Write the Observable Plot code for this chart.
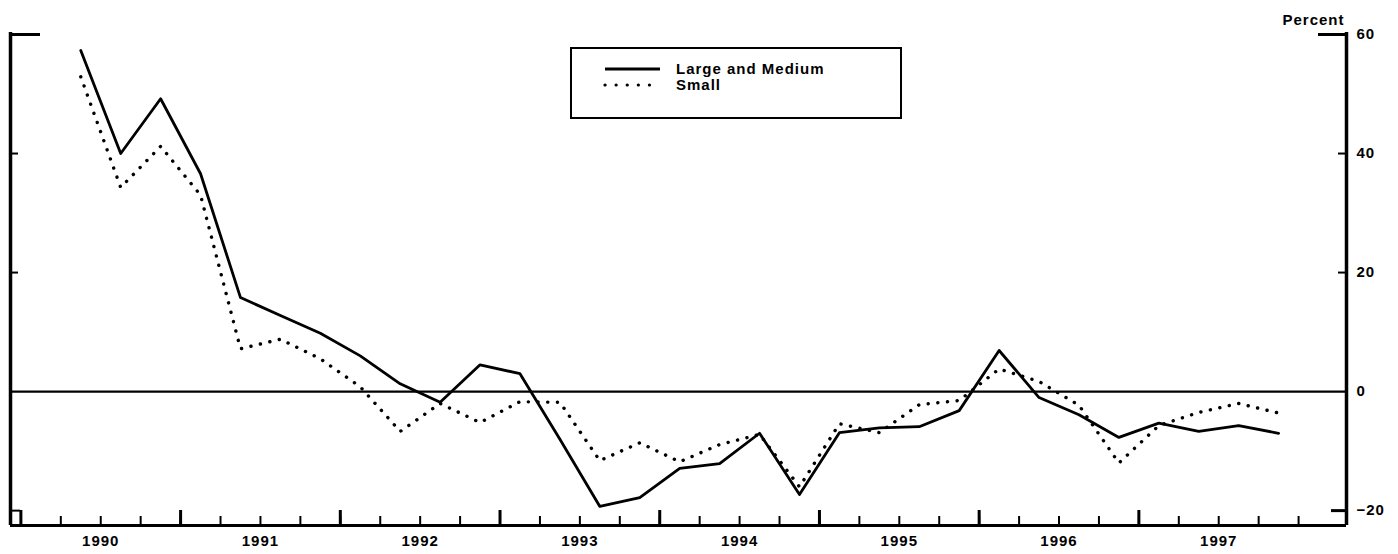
<!DOCTYPE html>
<html><head><meta charset="utf-8">
<script src="https://cdn.jsdelivr.net/npm/d3@7"></script>
<script src="https://cdn.jsdelivr.net/npm/@observablehq/plot@0.6"></script>
<style>
body{margin:0;background:#fff;font-family:"Liberation Sans",Arial,sans-serif;}
#wrap{position:relative;width:1398px;height:554px;}
#legend{position:absolute;left:570px;top:47px;width:332px;height:72px;border:2px solid #000;box-sizing:border-box;background:#fff;}
#legend svg{position:absolute;left:0;top:0;}
</style></head><body><div id="wrap"></div>
<script>
// Quarterly observations
const periods = [
  "1990:Q2","1990:Q3","1990:Q4",
  "1991:Q1","1991:Q2","1991:Q3","1991:Q4",
  "1992:Q1","1992:Q2","1992:Q3","1992:Q4",
  "1993:Q1","1993:Q2","1993:Q3","1993:Q4",
  "1994:Q1","1994:Q2","1994:Q3","1994:Q4",
  "1995:Q1","1995:Q2","1995:Q3","1995:Q4",
  "1996:Q1","1996:Q2","1996:Q3","1996:Q4",
  "1997:Q1","1997:Q2","1997:Q3","1997:Q4"
];
const largeMedium = [57.3, 40.0, 49.2, 36.6, 15.8, 12.8, 9.8, 6.0, 1.3, -1.8, 4.5, 3.0, -8.0, -19.3, -17.8, -12.9, -12.1, -7.0, -17.3, -6.9, -6.1, -5.9, -3.2, 6.9, -1.0, -3.9, -7.7, -5.3, -6.7, -5.7, -7.0];
const small = [52.9, 34.3, 41.2, 33.0, 7.2, 8.8, 5.5, 0.8, -6.7, -2.0, -5.2, -1.7, -1.8, -11.6, -8.6, -11.8, -8.9, -7.2, -16.0, -5.4, -6.9, -2.2, -1.5, 3.8, 1.7, -2.3, -12.0, -5.7, -3.5, -2.0, -3.6];
const seriesNames = ["Large and Medium", "Small"];
const yearLabels = ["1990","1991","1992","1993","1994","1995","1996","1997"];
const tickYears = [1990,1991,1992,1993,1994,1995,1996,1997,1998];
const yTickValues = [-20, 0, 20, 40, 60];
const unitLabel = "Percent";

const xDomain = [1989.935, 1998.30];
const yDomain = [-22.5, 60];

function periodToYear(p) { const [y, q] = p.split(":Q"); return +y + (+q - 0.5) / 4; }
const rows = periods.map((p, i) => ({t: periodToYear(p), lm: largeMedium[i], sm: small[i]}));
const labelPos = yearLabels.map(y => +y + 0.5);
const majorTicks = tickYears.slice(0, -1);
const minorTicks = [];
tickYears.slice(0, -1).forEach(y => { [0.25, 0.5, 0.75, 1].forEach(f => minorTicks.push(y + f)); });

const W = 1398, H = 554, mL = 10, mR = 52, mT = 34, mB = 29;
const innerW = W - mL - mR, innerH = H - mT - mB;
const fontFamily = "'Liberation Sans', Arial, sans-serif";

const chart = Plot.plot({
  width: W, height: H,
  marginLeft: mL, marginRight: mR, marginTop: mT, marginBottom: mB,
  style: {fontFamily, fontSize: "15px", background: "#fff", color: "#000", letterSpacing: "1px"},
  x: {domain: xDomain, label: null},
  y: {domain: yDomain, label: null},
  marks: [
    // frame: left, right, bottom
    Plot.ruleX([xDomain[0]], {strokeWidth: 3.5, insetTop: -2}),
    Plot.ruleX([xDomain[1]], {strokeWidth: 3.5, insetTop: -2}),
    Plot.ruleY([yDomain[0]], {strokeWidth: 3}),
    // zero line
    Plot.ruleY([0], {strokeWidth: 2.2}),
    // y ticks, left side (inward)
    Plot.ruleY([60], {strokeWidth: 3, insetRight: innerW - 30}),
    Plot.ruleY([40, 20], {strokeWidth: 2, insetRight: innerW - 8}),
    Plot.ruleY([-20], {strokeWidth: 2, insetRight: innerW - 10}),
    // y ticks, right side (inward)
    Plot.ruleY([60], {strokeWidth: 3, insetLeft: innerW - 28}),
    Plot.ruleY([40, 20], {strokeWidth: 2, insetLeft: innerW - 8}),
    Plot.ruleY([-20], {strokeWidth: 3, insetLeft: innerW - 15}),
    // x ticks, inward from bottom
    Plot.ruleX(minorTicks, {strokeWidth: 2, insetTop: innerH - 9}),
    Plot.ruleX(majorTicks, {strokeWidth: 3, insetTop: innerH - 15}),
    // series
    Plot.line(rows, {x: "t", y: "sm", stroke: "#000", strokeWidth: 3.4, strokeDasharray: "0.1 9.6", strokeLinecap: "round"}),
    Plot.line(rows, {x: "t", y: "lm", stroke: "#000", strokeWidth: 2.8}),
    // axes
    Plot.axisX(labelPos, {anchor: "bottom", label: null, tickSize: 0, tickPadding: 10, tickFormat: d => String(Math.floor(d)), fontSize: 15, fontWeight: "bold"}),
    Plot.axisY(yTickValues, {anchor: "right", label: null, tickSize: 0, tickPadding: 10, fontSize: 15, fontWeight: "bold", textAnchor: "start"}),
    Plot.text([unitLabel], {frameAnchor: "top-right", dy: -20, dx: -2, textAnchor: "end", fontSize: 15, fontWeight: "bold"})
  ]
});
const wrap = document.getElementById("wrap");
wrap.appendChild(chart);

// legend overlay
const lg = document.createElement("div");
lg.id = "legend";
lg.innerHTML = `<svg width="332" height="72">
  <line x1="33" x2="88" y1="20" y2="20" stroke="#000" stroke-width="2.8"/>
  <line x1="33" x2="88" y1="36" y2="36" stroke="#000" stroke-width="3.2" stroke-dasharray="0.1 11" stroke-linecap="round"/>
  <text x="104" y="25" font-size="15" font-weight="bold" letter-spacing="1" font-family="${fontFamily}">${seriesNames[0]}</text>
  <text x="104" y="41" font-size="15" font-weight="bold" letter-spacing="1" font-family="${fontFamily}">${seriesNames[1]}</text>
</svg>`;
wrap.appendChild(lg);
</script>
</body></html>
